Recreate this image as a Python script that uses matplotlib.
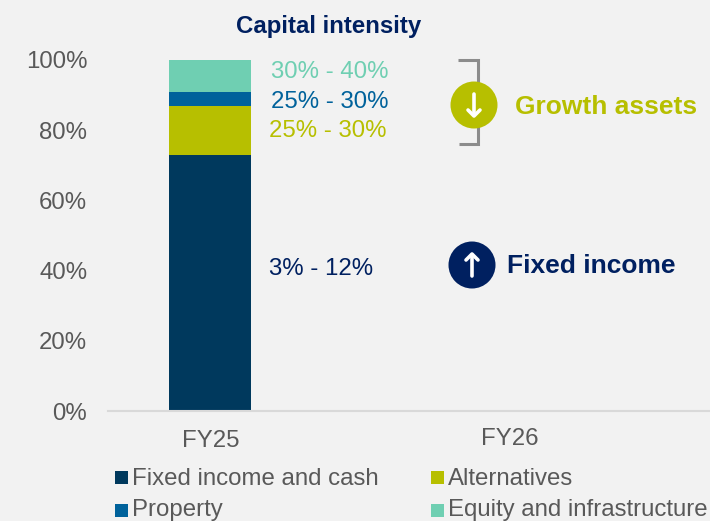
"""
Capital intensity: FY25 stacked bar with FY26 target ranges.
"""

import matplotlib.pyplot as plt
from matplotlib.patches import Circle, Rectangle

plt.rcParams['font.family'] = ['Liberation Sans', 'DejaVu Sans']

# -------------------------------------------------------------------
# Data
# -------------------------------------------------------------------
CATEGORIES = ['FY25', 'FY26']
SERIES = ['Fixed income and cash', 'Alternatives', 'Property', 'Equity and infrastructure']
FY25_VALUES = [73, 14, 4, 9]
COLORS = ['#00395d', '#b7bf00', '#00629b', '#6fcfb2']
Y_TICKS = [0, 20, 40, 60, 80, 100]
RANGE_LABELS = ['3% - 12%', '25% - 30%', '25% - 30%', '30% - 40%']

GREY = '#595959'
NAVY = '#002060'
BG = '#f2f2f2'
TXT = 17.3

W, H = 710, 521
fig = plt.figure(figsize=(W / 100, H / 100), dpi=100, facecolor=BG)

# axes placed in pixels: left 108, right 710, y=0 at 411, y=100 at 60
ax = fig.add_axes([108 / W, 1 - 411 / H, 602 / W, 351 / H])
ax.set_facecolor(BG)
ax.set_xlim(-0.34, 1.667)
ax.set_ylim(0, 100)

bottom = 0
for name, val, color in zip(SERIES, FY25_VALUES, COLORS):
    ax.bar(0, val, width=0.273, bottom=bottom, color=color, label=name)
    bottom += val

for s in ['top', 'right', 'left']:
    ax.spines[s].set_visible(False)
ax.spines['bottom'].set_color('#d9d9d9')
ax.spines['bottom'].set_linewidth(1.5)
ax.set_yticks(Y_TICKS)
ax.set_yticklabels([f'{t}%' for t in Y_TICKS])
ax.set_xticks([])
ax.tick_params(axis='y', length=0, labelsize=TXT, labelcolor=GREY, pad=15)

# overlay in pixel coordinates for the annotations
ov = fig.add_axes([0, 0, 1, 1], facecolor='none')
ov.set_xlim(0, W)
ov.set_ylim(H, 0)
ov.axis('off')

ov.text(328.5, 26, 'Capital intensity', fontsize=17.3, fontweight='bold',
        color=NAVY, ha='center', va='center')

ov.text(211, 441, CATEGORIES[0], fontsize=TXT, color=GREY, ha='center', va='center')
ov.text(510, 439, CATEGORIES[1], fontsize=TXT, color=GREY, ha='center', va='center')

# target range labels
ov.text(269, 269, RANGE_LABELS[0], fontsize=TXT, color=NAVY, va='center')
ov.text(269, 131, RANGE_LABELS[1], fontsize=TXT, color=COLORS[1], va='center')
ov.text(271, 102, RANGE_LABELS[2], fontsize=TXT, color=COLORS[2], va='center')
ov.text(271, 72, RANGE_LABELS[3], fontsize=TXT, color=COLORS[3], va='center')

# bracket and arrow badges
ov.plot([458, 478, 478, 459], [60, 60, 144, 144], color='#8c8c8c', lw=2.2,
        solid_joinstyle='miter', solid_capstyle='butt')


def badge(cx, cy, color, direction):
    ov.add_patch(Circle((cx, cy), 23.5, facecolor=color, edgecolor='none', zorder=3))
    tip = cy + 11 * direction
    tail = cy - 11 * direction
    ov.plot([cx, cx], [tail, tip - direction], color='white', lw=2.6, zorder=4,
            solid_capstyle='round')
    ov.plot([cx - 6, cx, cx + 6], [tip - 6 * direction, tip, tip - 6 * direction],
            color='white', lw=2.6, zorder=4, solid_capstyle='round')


badge(474, 105, COLORS[1], 1)
badge(472, 265, NAVY, -1)

ov.text(515, 107, 'Growth assets', fontsize=19, fontweight='bold',
        color=COLORS[1], va='center')
ov.text(507, 266, 'Fixed income', fontsize=19, fontweight='bold',
        color=NAVY, va='center')

# legend, laid out by hand so both columns sit where they do in the source
legend_pos = [(115, 477, 479), (431, 477, 479), (115, 510, 510), (431, 510, 510)]
for name, color, (x, y, ty) in zip(SERIES, COLORS, legend_pos):
    ov.add_patch(Rectangle((x, y - 6.5), 13, 13, facecolor=color, edgecolor='none'))
    ov.text(x + 17, ty, name, fontsize=TXT, color=GREY, va='center')

fig.savefig('out.png', dpi=100, facecolor=BG)
plt.close()
